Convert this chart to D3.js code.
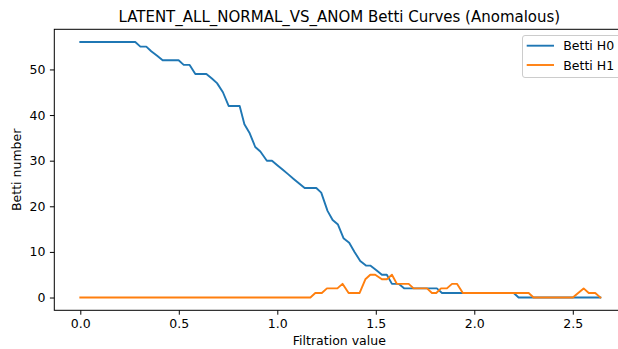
<!DOCTYPE html>
<html><head><meta charset="utf-8">
<script src="https://cdn.jsdelivr.net/npm/d3@7"></script>
<style>body{margin:0;background:#fff}svg{display:block}text{font-family:"DejaVu Sans",sans-serif;fill:#000}</style>
</head><body>
<script>
const title = "LATENT_ALL_NORMAL_VS_ANOM Betti Curves (Anomalous)";
const seriesNames = ["Betti H0", "Betti H1"];
const h0X = [0,0.279,0.305,0.335,0.36,0.39,0.418,0.499,0.525,0.555,0.584,0.64,0.668,0.694,0.724,0.753,0.809,0.833,0.86,0.888,0.914,0.947,0.973,1.0,1.028,1.056,1.083,1.111,1.139,1.198,1.223,1.255,1.281,1.308,1.336,1.365,1.392,1.421,1.45,1.472,1.503,1.531,1.556,1.582,1.616,1.645,1.81,1.836,2.2,2.225,2.64];
const h0Y = [56,56,55,55,54,53,52,52,51,51,49,49,48,47,45,42,42,38,36,33,32,30,30,29,28,27,26,25,24,24,23,19,17,16,13,12,10,8,7,7,6,5,5,3,3,2,2,1,1,0,0];
const h1X = [0,1.168,1.193,1.226,1.252,1.305,1.331,1.362,1.418,1.447,1.472,1.497,1.531,1.556,1.582,1.607,1.667,1.692,1.76,1.785,1.807,1.831,1.861,1.887,1.912,1.942,2.276,2.301,2.5,2.555,2.581,2.614,2.64];
const h1Y = [0,0,1,1,2,2,3,1,1,4,5,5,4,4,5,3,3,2,2,1,1,2,2,3,3,1,1,0,0,2,1,1,0];
const xTicks = [0.0,0.5,1.0,1.5,2.0,2.5];
const yTicks = [0,10,20,30,40,50];

const W = 618, H = 349;
const L = 54.3, R = 624.4, T = 29.3, B = 310.3;
const FS = "12.5px";
const svg = d3.select("body").append("svg").attr("width", W).attr("height", H);
const x = d3.scaleLinear().domain([-0.132, 2.762]).range([L, R]);
const y = d3.scaleLinear().domain([-2.8, 58.8]).range([B, T]);

const g = svg.append("g");
const xAxis = g.append("g").attr("transform", `translate(0,${B})`)
  .call(d3.axisBottom(x).tickValues(xTicks).tickFormat(d3.format(".1f")).tickSize(4.4).tickPadding(4.4));
const yAxis = g.append("g").attr("transform", `translate(${L},0)`)
  .call(d3.axisLeft(y).tickValues(yTicks).tickFormat(d3.format("d")).tickSize(4.4).tickPadding(4.4));
[xAxis, yAxis].forEach(a => {
  a.select(".domain").remove();
  a.selectAll("line").attr("stroke", "#000").attr("stroke-width", 1);
  a.selectAll("text").style("font-size", FS).style("fill", "#000").style("font-family", '"DejaVu Sans",sans-serif');
});

const colors = ["#1f77b4", "#ff7f0e"];
const line = d3.line().x(d => x(d[0])).y(d => y(d[1]));
const series = [d3.zip(h0X, h0Y), d3.zip(h1X, h1Y)];
series.forEach((s, i) => {
  g.append("path").datum(s).attr("d", line).attr("fill", "none")
    .attr("stroke", colors[i]).attr("stroke-width", 1.9).attr("stroke-linejoin", "round").attr("stroke-linecap", "square");
});

g.append("rect").attr("x", L).attr("y", T).attr("width", R - L).attr("height", B - T)
  .attr("fill", "none").attr("stroke", "#000").attr("stroke-width", 1);

svg.append("text").attr("x", (L + R) / 2).attr("y", 21.5).attr("text-anchor", "middle")
  .style("font-size", "15px").text(title);
svg.append("text").attr("x", (L + R) / 2).attr("y", 345).attr("text-anchor", "middle")
  .style("font-size", FS).text("Filtration value");
svg.append("text").attr("transform", `translate(21,${(T + B) / 2}) rotate(-90)`).attr("text-anchor", "middle")
  .style("font-size", FS).text("Betti number");

const lg = svg.append("g");
lg.append("rect").attr("x", 522.5).attr("y", 35.5).attr("width", 110).attr("height", 42).attr("rx", 2.5)
  .attr("fill", "#fff").attr("fill-opacity", 0.8).attr("stroke", "#cccccc").attr("stroke-width", 1);
seriesNames.forEach((n, i) => {
  const yy = 45.7 + i * 19.3;
  lg.append("line").attr("x1", 526.7).attr("x2", 554).attr("y1", yy).attr("y2", yy)
    .attr("stroke", colors[i]).attr("stroke-width", 1.9);
  lg.append("text").attr("x", 563.3).attr("y", yy + 4.5).style("font-size", FS).text(n);
});
</script>
</body></html>
